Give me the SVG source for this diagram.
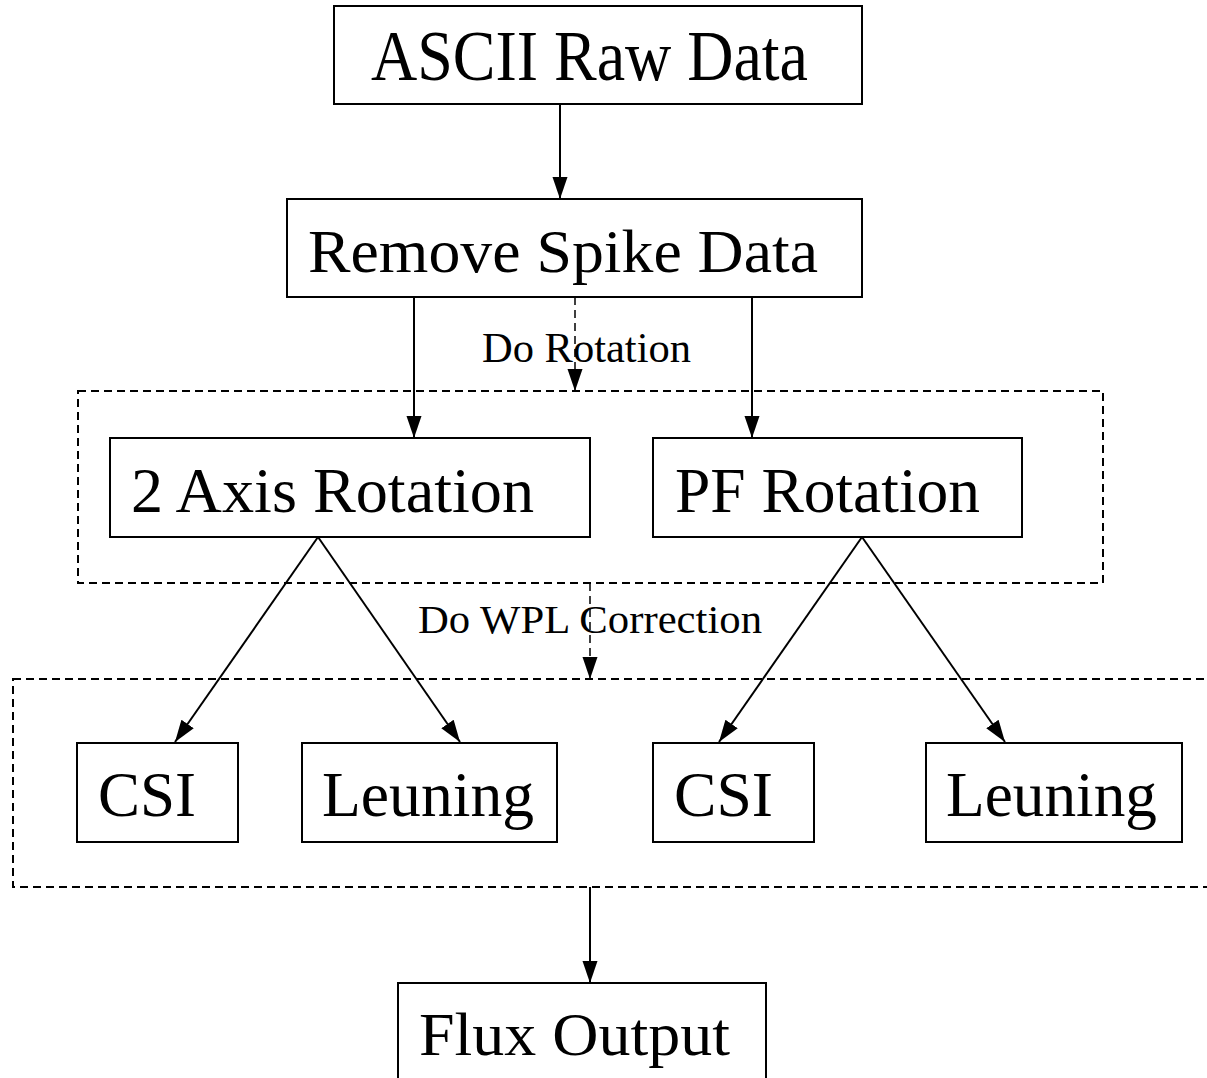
<svg xmlns="http://www.w3.org/2000/svg" width="1207" height="1078" viewBox="0 0 1207 1078">
<style>
.box{fill:#fff;stroke:#000;stroke-width:2}
.grp{fill:none;stroke:#000;stroke-width:2;stroke-dasharray:8 5}
.t{font-family:"Liberation Serif","Times New Roman",serif;fill:#000}
.ln{stroke:#000;stroke-width:2;fill:none}
.dl{stroke:#000;stroke-width:1.5;fill:none;stroke-dasharray:8 5}
</style>
<defs>
<marker id="ah" markerUnits="userSpaceOnUse" markerWidth="24" markerHeight="18" viewBox="0 0 24 18" refX="22" refY="9" orient="auto">
<path d="M0,1.5 L22,9 L0,16.5 Z" fill="#000"/>
</marker>
</defs>
<rect width="1207" height="1078" fill="#fff"/>
<g id="groups">
<rect id="rotation-group" class="grp" x="78" y="391" width="1025" height="192"/>
<rect id="wpl-group" class="grp" x="13" y="679" width="1210" height="208"/>
</g>
<g id="connectors">
<line class="ln" x1="560" y1="104" x2="560" y2="199" marker-end="url(#ah)"/>
<line class="ln" x1="414" y1="297" x2="414" y2="438" marker-end="url(#ah)"/>
<line class="ln" x1="752" y1="297" x2="752" y2="438" marker-end="url(#ah)"/>
<line class="dl" x1="575" y1="297" x2="575" y2="391" marker-end="url(#ah)"/>
<line class="ln" x1="318" y1="537" x2="175" y2="742" marker-end="url(#ah)"/>
<line class="ln" x1="318" y1="537" x2="460" y2="742" marker-end="url(#ah)"/>
<line class="ln" x1="862" y1="537" x2="719" y2="742" marker-end="url(#ah)"/>
<line class="ln" x1="862" y1="537" x2="1005" y2="742" marker-end="url(#ah)"/>
<line class="dl" x1="590" y1="583" x2="590" y2="679" marker-end="url(#ah)"/>
<line class="ln" x1="590" y1="887" x2="590" y2="983" marker-end="url(#ah)"/>
</g>
<g id="label-do-rotation"><text class="t" x="482" y="362" font-size="42" textLength="209" lengthAdjust="spacingAndGlyphs">Do Rotation</text></g>
<g id="label-do-wpl"><text class="t" x="418" y="633" font-size="40" textLength="344" lengthAdjust="spacingAndGlyphs">Do WPL Correction</text></g>
<g id="ascii"><rect class="box" x="334" y="6" width="528" height="98"/><text class="t" x="371" y="80" font-size="71" textLength="437" lengthAdjust="spacingAndGlyphs">ASCII Raw Data</text></g>
<g id="remove-spike"><rect class="box" x="287" y="199" width="575" height="98"/><text class="t" x="308" y="272" font-size="62" textLength="510" lengthAdjust="spacingAndGlyphs">Remove Spike Data</text></g>
<g id="two-axis"><rect class="box" x="110" y="438" width="480" height="99"/><text class="t" x="131" y="512" font-size="64" textLength="403" lengthAdjust="spacingAndGlyphs">2 Axis Rotation</text></g>
<g id="pf"><rect class="box" x="653" y="438" width="369" height="99"/><text class="t" x="675" y="512" font-size="64" textLength="305" lengthAdjust="spacingAndGlyphs">PF Rotation</text></g>
<g id="csi-1"><rect class="box" x="77" y="743" width="161" height="99"/><text class="t" x="98" y="816" font-size="64" textLength="98" lengthAdjust="spacingAndGlyphs">CSI</text></g>
<g id="leuning-1"><rect class="box" x="302" y="743" width="255" height="99"/><text class="t" x="322" y="816" font-size="64" textLength="212" lengthAdjust="spacingAndGlyphs">Leuning</text></g>
<g id="csi-2"><rect class="box" x="653" y="743" width="161" height="99"/><text class="t" x="674" y="816" font-size="64" textLength="99" lengthAdjust="spacingAndGlyphs">CSI</text></g>
<g id="leuning-2"><rect class="box" x="926" y="743" width="256" height="99"/><text class="t" x="946" y="816" font-size="64" textLength="211" lengthAdjust="spacingAndGlyphs">Leuning</text></g>
<g id="flux"><rect class="box" x="398" y="983" width="368" height="110"/><text class="t" x="419" y="1055" font-size="62" textLength="311" lengthAdjust="spacingAndGlyphs">Flux Output</text></g>
</svg>
